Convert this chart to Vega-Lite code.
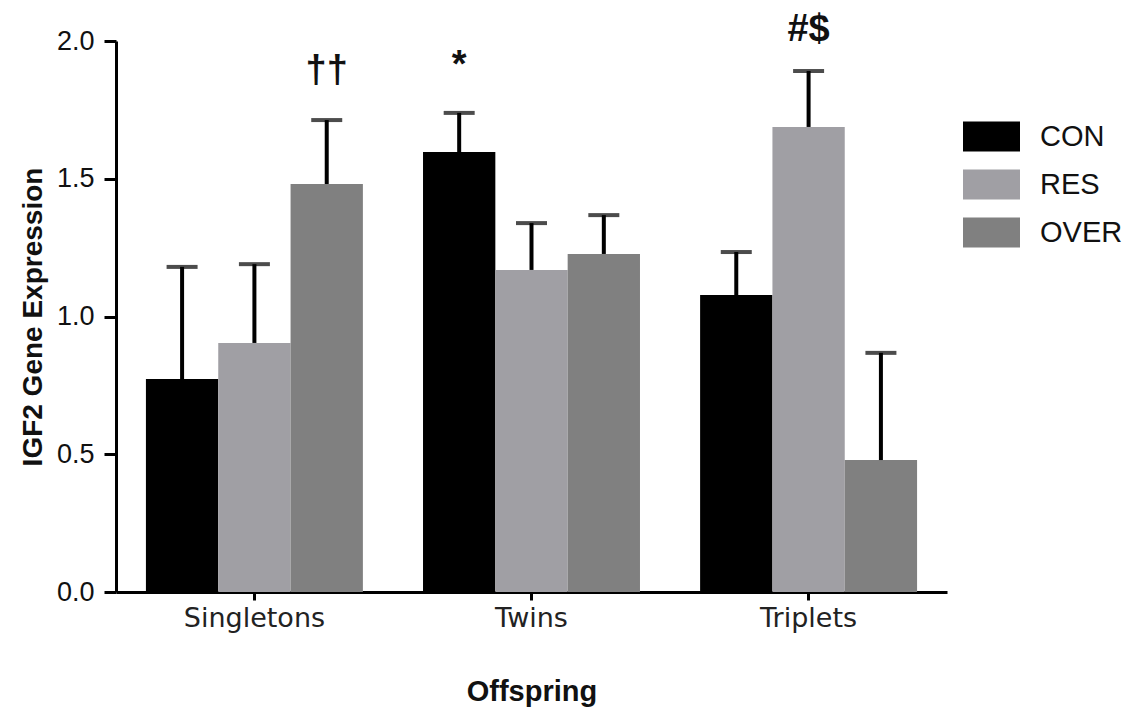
{
  "$schema": "https://vega.github.io/schema/vega-lite/v6.json",
  "width": 831,
  "height": 551,
  "autosize": {"type": "none"},
  "padding": {"left": 116, "top": 41, "right": 183, "bottom": 121},
  "background": "white",
  "config": {
    "view": {"stroke": null},
    "font": "Liberation Sans"
  },
  "datasets": {
    "bars": [
      {"group": "Singletons", "condition": "CON", "mean": 0.773, "upper": 1.18},
      {"group": "Singletons", "condition": "RES", "mean": 0.904, "upper": 1.19},
      {"group": "Singletons", "condition": "OVER", "mean": 1.481, "upper": 1.713},
      {"group": "Twins", "condition": "CON", "mean": 1.597, "upper": 1.739},
      {"group": "Twins", "condition": "RES", "mean": 1.169, "upper": 1.339},
      {"group": "Twins", "condition": "OVER", "mean": 1.227, "upper": 1.368},
      {"group": "Triplets", "condition": "CON", "mean": 1.078, "upper": 1.234},
      {"group": "Triplets", "condition": "RES", "mean": 1.688, "upper": 1.891},
      {"group": "Triplets", "condition": "OVER", "mean": 0.479, "upper": 0.868}
    ],
    "marks": [
      {"group": "Singletons", "condition": "OVER", "label": "††", "pos": 1.85},
      {"group": "Twins", "condition": "CON", "label": "*", "pos": 1.87},
      {"group": "Triplets", "condition": "RES", "label": "#$", "pos": 2.0}
    ]
  },
  "encoding": {
    "x": {
      "field": "group",
      "type": "nominal",
      "sort": ["Singletons", "Twins", "Triplets"],
      "scale": {"domain": ["Singletons", "Twins", "Triplets"], "paddingInner": 0.217, "paddingOuter": 0.108},
      "axis": {
        "title": "Offspring",
        "titleFont": "Liberation Sans",
        "titleFontSize": 29,
        "titleFontWeight": "bold",
        "titleColor": "#111",
        "titlePadding": 46,
        "labelFont": "DejaVu Sans",
        "labelFontSize": 27,
        "labelColor": "#222",
        "labelAngle": 0,
        "labelPadding": 5,
        "domainColor": "#000",
        "domainWidth": 3,
        "tickColor": "#000",
        "tickWidth": 3,
        "tickSize": 8
      }
    },
    "xOffset": {
      "field": "condition",
      "type": "nominal",
      "sort": ["CON", "RES", "OVER"],
      "scale": {"domain": ["CON", "RES", "OVER"], "paddingInner": 0, "paddingOuter": 0}
    }
  },
  "layer": [
    {
      "data": {"name": "bars"},
      "mark": {"type": "bar"},
      "encoding": {
        "y": {
          "field": "mean",
          "type": "quantitative",
          "scale": {"domain": [0, 2], "nice": false},
          "axis": {
            "title": "IGF2  Gene Expression",
            "titleFont": "Liberation Sans",
            "titleFontSize": 28,
            "titleFontWeight": "bold",
            "titleColor": "#111",
            "titlePadding": 9,
            "values": [0, 0.5, 1, 1.5, 2],
            "format": ".1f",
            "labelFont": "Liberation Sans",
            "labelFontSize": 27,
            "labelColor": "#111",
            "labelPadding": 10,
            "grid": false,
            "domainColor": "#000",
            "domainWidth": 3,
            "tickColor": "#000",
            "tickWidth": 3,
            "tickSize": 12
          }
        },
        "color": {
          "field": "condition",
          "type": "nominal",
          "sort": ["CON", "RES", "OVER"],
          "scale": {"domain": ["CON", "RES", "OVER"], "range": ["#000000", "#a09fa4", "#808080"]},
          "legend": {
            "title": null,
            "orient": "none",
            "legendX": 847,
            "legendY": 67,
            "padding": 0,
            "symbolType": "M-1,-0.53H1V0.53H-1Z",
            "symbolSize": 3249,
            "symbolStrokeWidth": 0,
            "labelFont": "Liberation Sans",
            "labelFontSize": 29,
            "labelColor": "#111",
            "labelOffset": 20,
            "rowPadding": 4
          }
        }
      }
    },
    {
      "data": {"name": "bars"},
      "mark": {"type": "rule", "color": "#000", "strokeWidth": 4},
      "encoding": {
        "y": {"field": "mean", "type": "quantitative"},
        "y2": {"field": "upper"}
      }
    },
    {
      "data": {"name": "bars"},
      "mark": {"type": "tick", "color": "#000", "size": 31, "thickness": 4, "orient": "horizontal"},
      "encoding": {
        "y": {"field": "upper", "type": "quantitative"}
      }
    },
    {
      "data": {"name": "marks"},
      "mark": {"type": "text", "font": "Liberation Sans", "fontSize": 38, "fontWeight": "bold", "color": "#111", "align": "center", "baseline": "alphabetic"},
      "encoding": {
        "y": {"field": "pos", "type": "quantitative"},
        "text": {"field": "label"}
      }
    }
  ]
}
